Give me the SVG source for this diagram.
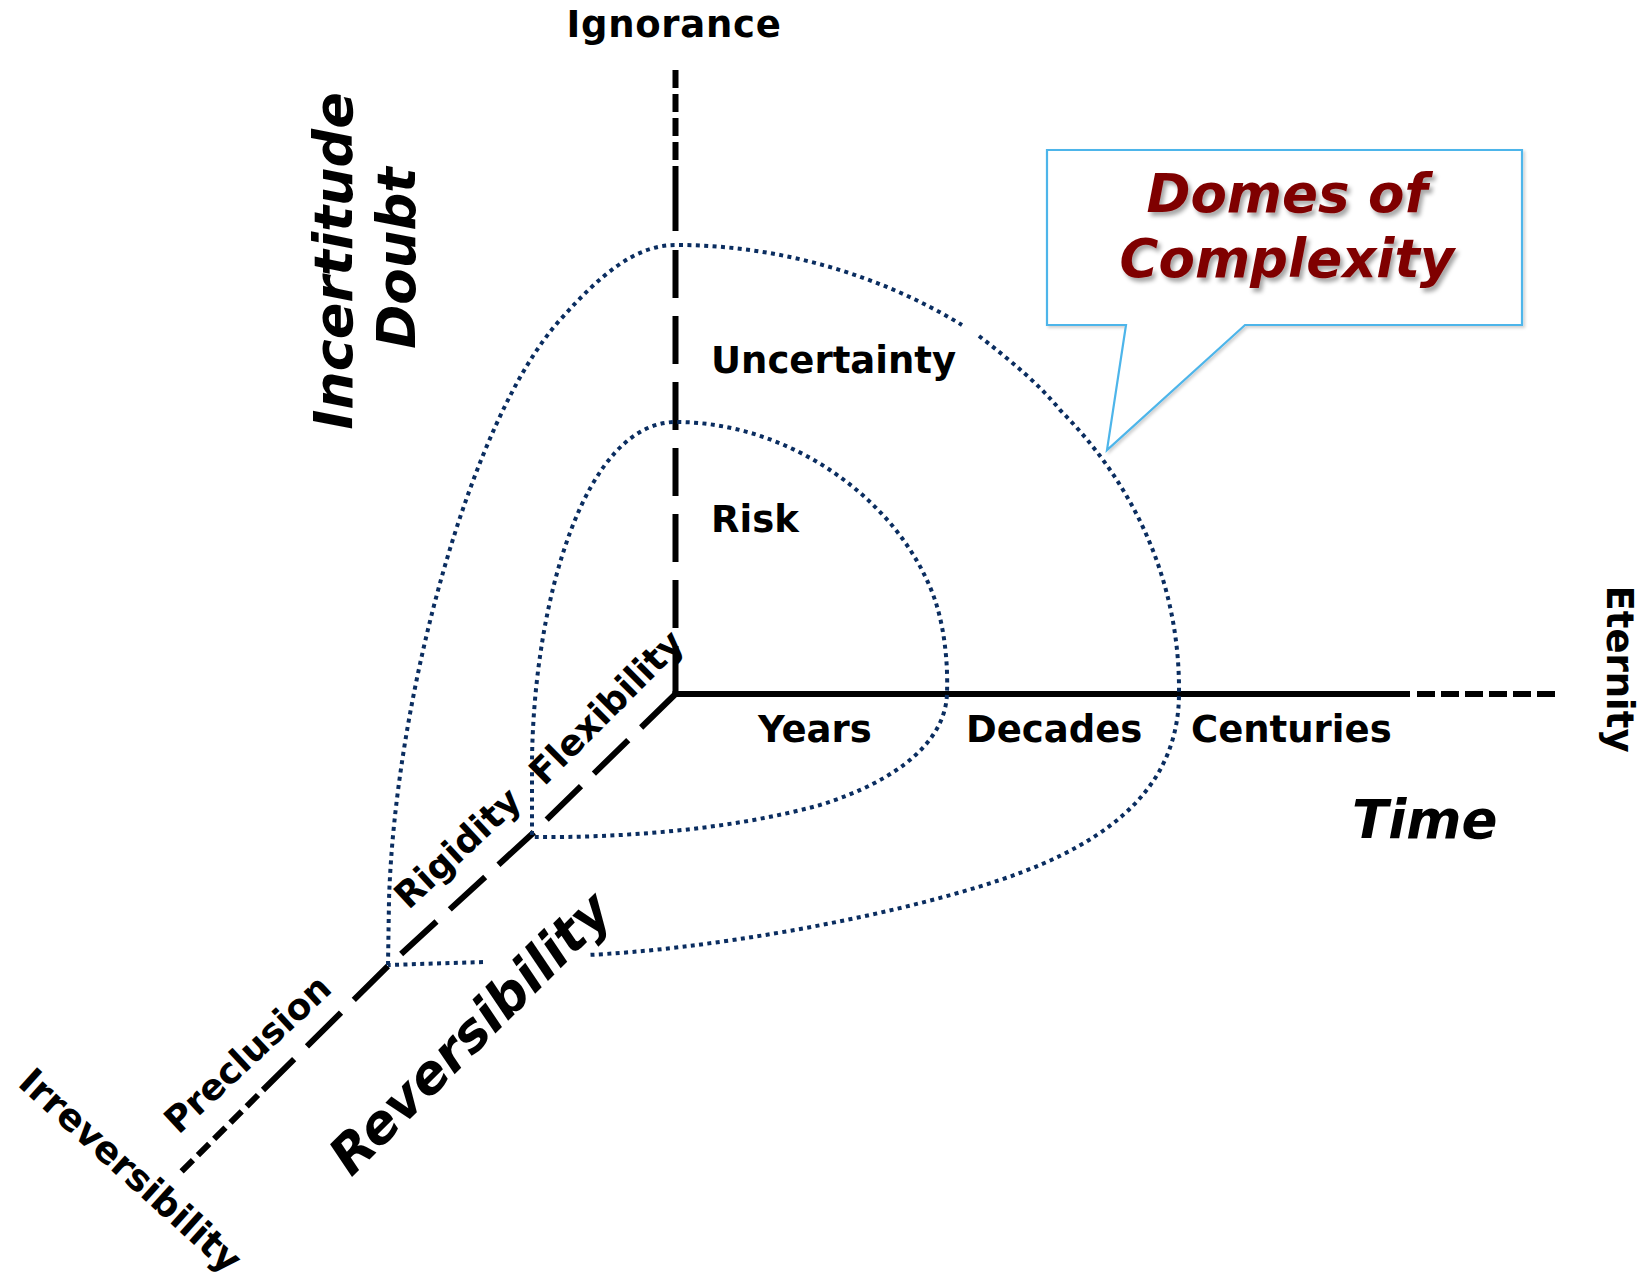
<svg xmlns="http://www.w3.org/2000/svg" width="1643" height="1282" viewBox="0 0 1643 1282">
  <defs>
    <filter id="textShadow" x="-10%" y="-20%" width="130%" height="150%">
      <feDropShadow dx="3" dy="4" stdDeviation="2" flood-color="#000" flood-opacity="0.35"/>
    </filter>
    <filter id="boxShadow" x="-5%" y="-5%" width="115%" height="120%">
      <feDropShadow dx="2" dy="2" stdDeviation="1.5" flood-color="#000" flood-opacity="0.18"/>
    </filter>
  </defs>
  <style>
    .lbl { font-family: "DejaVu Sans", Verdana, sans-serif; font-weight: bold; fill: #000; }
    .axis { font-size: 37px; }
    .diag { font-size: 36px; }
    .big { font-style: italic; }
    .solid { stroke: #000; stroke-width: 6; fill: none; }
    .longdash { stroke: #000; stroke-width: 6; fill: none; stroke-dasharray: 48 18; }
    .shortdash { stroke: #000; stroke-width: 6; fill: none; stroke-dasharray: 18 6; }
    .dome { stroke: #0a2d60; stroke-width: 4; fill: none; stroke-dasharray: 4 4.4; }
    .callout { fill: #fff; stroke: #4db5ea; stroke-width: 2.2; }
    .title { font-family: "DejaVu Sans", Verdana, sans-serif; font-weight: bold; font-style: italic; font-size: 53px; fill: #7f0000; }
  </style>

  <rect width="1643" height="1282" fill="#fff"/>

  <!-- axes -->
  <g id="axes">
    <!-- vertical axis: uncertainty -->
    <path class="shortdash" d="M675.5,70 L675.5,160"/>
    <path class="solid" d="M675.5,166 L675.5,231"/>
    <path class="longdash" d="M675.5,694 L675.5,249"/>
    <!-- horizontal axis: time -->
    <path class="solid" d="M672.5,694 L1410,694"/>
    <path class="shortdash" d="M1417,694 L1556,694"/>
    <!-- diagonal axis: reversibility -->
    <path class="longdash" d="M675.5,694 L532,834 L388,966 L263,1090"/>
    <path class="shortdash" style="stroke-dasharray:16 7" d="M258,1095 L178,1175"/>
  </g>

  <!-- dotted domes -->
  <g id="domes">
    <g id="dome-risk">
      <path class="dome" d="M532,835 L532,760 C534,600 585,422 676,422 C790,422 900,500 935,600 C945,630 948,665 947,693 C946,740 900,780 820,805 C730,830 620,838 532,837"/>
    </g>
    <g id="dome-uncertainty">
      <path class="dome" d="M388,965 L389,900 C395,700 470,420 560,320 C600,275 635,245 676,245 C780,245 880,275 962,325"/>
      <path class="dome" d="M979,336 C1010,360 1040,385 1060,410 C1140,490 1180,590 1179,693 C1179,780 1120,840 1000,880 C880,920 700,950 587,955"/>
      <path class="dome" d="M483,962 L388,965"/>
    </g>
  </g>

  <!-- axis end labels -->
  <g id="label-ignorance"><text class="lbl axis" x="674" y="37" text-anchor="middle" letter-spacing="0.7">Ignorance</text></g>
  <g id="label-eternity"><text class="lbl axis" x="1607" y="669" text-anchor="middle" transform="rotate(90 1607 669)">Eternity</text></g>
  <g id="label-irreversibility"><text class="lbl" font-size="37" x="122" y="1180" text-anchor="middle" transform="rotate(42 122 1180)">Irreversibility</text></g>

  <!-- axis titles -->
  <g id="title-incertitude">
    <text class="lbl big" font-size="54" x="352" y="261" text-anchor="middle" transform="rotate(-90 352 261)">Incertitude</text>
    <text class="lbl big" font-size="53" x="415" y="258" text-anchor="middle" transform="rotate(-90 415 258)">Doubt</text>
  </g>
  <g id="title-time"><text class="lbl big" font-size="53" x="1352" y="838">Time</text></g>
  <g id="title-reversibility"><text class="lbl big" font-size="53" x="483" y="1046" text-anchor="middle" transform="rotate(-45 483 1046)">Reversibility</text></g>

  <!-- regions -->
  <g id="label-uncertainty"><text class="lbl axis" x="711" y="373">Uncertainty</text></g>
  <g id="label-risk"><text class="lbl axis" x="711" y="532">Risk</text></g>

  <!-- time scale -->
  <g id="label-years"><text class="lbl axis" x="758" y="742">Years</text></g>
  <g id="label-decades"><text class="lbl axis" x="966" y="742">Decades</text></g>
  <g id="label-centuries"><text class="lbl axis" x="1191" y="742">Centuries</text></g>

  <!-- reversibility scale -->
  <g id="label-flexibility"><text class="lbl diag" x="615" y="716" text-anchor="middle" transform="rotate(-45 615 716)">Flexibility</text></g>
  <g id="label-rigidity"><text class="lbl diag" x="466" y="857" text-anchor="middle" transform="rotate(-43 466 857)">Rigidity</text></g>
  <g id="label-preclusion"><text class="lbl diag" x="256" y="1063" text-anchor="middle" transform="rotate(-43 256 1063)">Preclusion</text></g>

  <!-- callout -->
  <g id="callout-domes">
    <path class="callout" filter="url(#boxShadow)" d="M1047,150 L1522,150 L1522,325 L1245,325 L1107,450 L1126,325 L1047,325 Z"/>
    <text class="title" filter="url(#textShadow)" x="1287" y="212" text-anchor="middle">Domes of</text>
    <text class="title" filter="url(#textShadow)" x="1287" y="277" text-anchor="middle">Complexity</text>
  </g>
</svg>
